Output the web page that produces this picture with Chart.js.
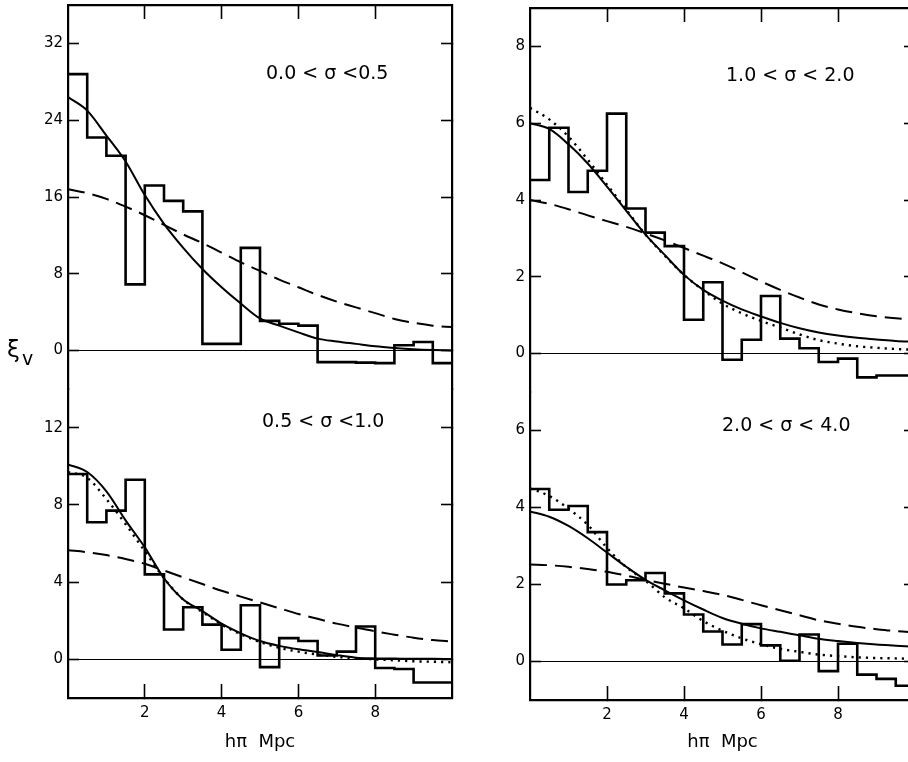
<!DOCTYPE html>
<html>
<head>
<meta charset="utf-8">
<script src="https://cdn.jsdelivr.net/npm/chart.js@4.4.1/dist/chart.umd.min.js"></script>
<style>
  html, body { margin: 0; padding: 0; background: #fff; overflow: hidden; }
  #fig { position: relative; width: 908px; height: 762px; overflow: hidden;
         font-family: 'DejaVu Sans', sans-serif; color: #000; background: #fff; }
  #fig canvas { position: absolute; }
  .lbl { position: absolute; font-size: 19px; line-height: 19px; white-space: pre; }
</style>
</head>
<body>
<div id="fig">
  <canvas id="tl" width="460" height="392" style="left:0;top:0"></canvas>
  <canvas id="bl" width="460" height="382" style="left:0;top:380px"></canvas>
  <canvas id="tr" width="470" height="395" style="left:460px;top:0"></canvas>
  <canvas id="br" width="470" height="379" style="left:460px;top:383px"></canvas>

  <div class="lbl" style="left:266px;top:63px">0.0 &lt; σ &lt;0.5</div>
  <div class="lbl" style="left:262px;top:411px">0.5 &lt; σ &lt;1.0</div>
  <div class="lbl" style="left:726px;top:65px">1.0 &lt; σ &lt; 2.0</div>
  <div class="lbl" style="left:722px;top:415px">2.0 &lt; σ &lt; 4.0</div>

  <div class="lbl" style="left:7px;top:338px;font-size:23px;line-height:23px">ξ</div>
  <div class="lbl" style="left:22px;top:349px;font-size:19px;line-height:19px">v</div>
</div>

<script>
'use strict';

// histogram bin edges and curve sample points (h*pi, Mpc)
const binEdges = [0, 0.5, 1, 1.5, 2, 2.5, 3, 3.5, 4, 4.5, 5, 5.5, 6, 6.5, 7, 7.5, 8, 8.5, 9, 9.5, 10];
const curveX   = [0, 0.5, 1, 1.5, 2, 2.5, 3, 3.5, 4, 4.5, 5, 5.5, 6, 6.5, 7, 7.5, 8, 8.5, 9, 9.5, 10];
const xTicks = [2, 4, 6, 8];

// 0.0 < sigma < 0.5
const histTL   = [28.8, 22.2, 20.3, 6.9, 17.2, 15.6, 14.5, 0.7, 0.7, 10.7, 3.1, 2.8, 2.6, -1.2, -1.2, -1.25, -1.3, 0.55, 0.9, -1.3];
const solidTL  = [26.4, 25.0, 22.4, 19.7, 16.2, 13.2, 10.7, 8.5, 6.6, 4.9, 3.35, 2.6, 1.9, 1.25, 0.95, 0.7, 0.45, 0.28, 0.15, 0.07, 0.02];
const dashedTL = [16.8, 16.4, 15.8, 15.0, 14.1, 13.1, 12.1, 11.2, 10.2, 9.2, 8.3, 7.4, 6.6, 5.8, 5.1, 4.5, 3.9, 3.3, 2.9, 2.6, 2.45];
const yTicksTL = [0, 8, 16, 24, 32];

// 0.5 < sigma < 1.0
const histBL   = [9.6, 7.1, 7.7, 9.3, 4.4, 1.55, 2.7, 1.8, 0.5, 2.8, -0.4, 1.1, 0.95, 0.2, 0.4, 1.7, -0.45, -0.5, -1.2, -1.2];
const solidBL  = [10.1, 9.7, 8.7, 7.2, 5.8, 4.2, 3.1, 2.5, 1.85, 1.35, 0.95, 0.7, 0.52, 0.38, 0.22, 0.09, 0.05, 0.04, 0.03, 0.03, 0.02];
const dottedBL = [9.7, 9.4, 8.3, 7.0, 5.6, 4.2, 3.1, 2.45, 1.8, 1.3, 0.9, 0.6, 0.4, 0.25, 0.13, 0.05, 0.0, -0.05, -0.1, -0.12, -0.15];
const dashedBL = [5.65, 5.55, 5.4, 5.2, 4.95, 4.6, 4.25, 3.9, 3.55, 3.25, 2.95, 2.65, 2.35, 2.1, 1.85, 1.65, 1.45, 1.28, 1.12, 1.0, 0.92];
const yTicksBL = [0, 4, 8, 12];

// 1.0 < sigma < 2.0
const histTR   = [4.52, 5.88, 4.21, 4.76, 6.25, 3.78, 3.15, 2.8, 0.88, 1.86, -0.16, 0.36, 1.5, 0.39, 0.14, -0.22, -0.13, -0.62, -0.57, -0.57];
const solidTR  = [6.0, 5.85, 5.45, 4.95, 4.35, 3.72, 3.1, 2.57, 2.05, 1.66, 1.38, 1.15, 0.97, 0.8, 0.66, 0.55, 0.47, 0.41, 0.37, 0.33, 0.31];
const dottedTR = [6.4, 6.1, 5.65, 5.05, 4.4, 3.75, 3.1, 2.55, 2.05, 1.65, 1.3, 1.05, 0.85, 0.68, 0.5, 0.35, 0.26, 0.19, 0.15, 0.12, 0.1];
const dashedTR = [4.0, 3.9, 3.76, 3.6, 3.45, 3.3, 3.13, 2.95, 2.75, 2.55, 2.35, 2.12, 1.88, 1.66, 1.46, 1.28, 1.15, 1.05, 0.97, 0.92, 0.88];
const yTicksTR = [0, 2, 4, 6, 8];

// 2.0 < sigma < 4.0
const histBR   = [4.48, 3.94, 4.04, 3.36, 2.0, 2.11, 2.3, 1.77, 1.22, 0.78, 0.44, 0.97, 0.42, 0.02, 0.7, -0.25, 0.46, -0.34, -0.45, -0.63];
const solidBR  = [3.9, 3.76, 3.52, 3.2, 2.83, 2.46, 2.12, 1.85, 1.59, 1.35, 1.13, 0.98, 0.86, 0.77, 0.68, 0.59, 0.53, 0.48, 0.44, 0.41, 0.38];
const dottedBR = [4.5, 4.3, 3.97, 3.55, 2.95, 2.45, 2.1, 1.67, 1.38, 1.05, 0.8, 0.6, 0.45, 0.33, 0.25, 0.18, 0.14, 0.11, 0.09, 0.08, 0.07];
const dashedBR = [2.52, 2.5, 2.46, 2.4, 2.33, 2.23, 2.12, 2.02, 1.92, 1.83, 1.73, 1.6, 1.46, 1.33, 1.2, 1.07, 0.98, 0.9, 0.84, 0.79, 0.76];
const yTicksBR = [0, 2, 4, 6];

const q = s => document.querySelector(s);
const black = '#000';
const family = "'DejaVu Sans', sans-serif";
const tickFont = { family, size: 15 };

// histogram: value of bin i holds from edge i to edge i+1
const stepData = vals => binEdges.map((x, i) => ({ x, y: vals[Math.min(i, vals.length - 1)] }));
const curveData = vals => curveX.map((x, i) => ({ x, y: vals[i] }));

function zeroPad(s) {
    s.paddingLeft = 0; s.paddingRight = 0; s.paddingTop = 0; s.paddingBottom = 0;
}

function xScale(isBottom, height) {
    return {
        type: 'linear', position: isBottom ? 'bottom' : 'top', min: 0, max: 10,
        ticks: { display: isBottom, font: tickFont, color: black, padding: 20, maxRotation: 0, autoSkip: false },
        grid: { drawOnChartArea: false, drawTicks: true, tickLength: -14, tickColor: black, tickWidth: 1.6 },
        border: { display: true, color: black, width: 2.2 },
        title: {
            display: isBottom, text: 'hπ  Mpc', color: black,
            font: { family, size: 18 }, padding: { top: 0, bottom: 9 }
        },
        afterBuildTicks: s => { s.ticks = xTicks.map(v => ({ value: v })); },
        afterFit: s => { s.height = height; zeroPad(s); }
    };
}

function yScale(side, range, ticks, width) {
    const left = side === 'left';
    return {
        type: 'linear', position: side, min: range[0], max: range[1],
        ticks: { display: left, font: tickFont, color: black, padding: 16 },
        grid: {
            drawOnChartArea: left, drawTicks: true, tickLength: -11,
            // only the zero level is drawn across the panel
            color: c => (c.tick && c.tick.value === 0) ? black : 'rgba(0,0,0,0)',
            lineWidth: 1, tickColor: black, tickWidth: 1.6
        },
        border: { display: true, color: black, width: 2.2 },
        afterBuildTicks: s => { s.ticks = ticks.map(v => ({ value: v })); },
        afterFit: s => { s.width = width; zeroPad(s); }
    };
}

function series(data, extra) {
    return Object.assign({
        data, borderColor: black, borderWidth: 2, pointRadius: 0, fill: false
    }, extra);
}

function makePanel(id, p) {
    const datasets = [
        series(stepData(p.hist), { stepped: true, borderWidth: 2.6 }),
        series(curveData(p.solid), { cubicInterpolationMode: 'monotone' }),
        series(curveData(p.dashed), { cubicInterpolationMode: 'monotone', borderDash: [17, 8] })
    ];
    if (p.dotted) {
        datasets.push(series(curveData(p.dotted), {
            cubicInterpolationMode: 'monotone', borderDash: [2.2, 5], borderWidth: 2.4
        }));
    }
    return new Chart(q(id).getContext('2d'), {
        type: 'line',
        data: { datasets },
        options: {
            responsive: false,
            animation: false,
            devicePixelRatio: 1,
            layout: { autoPadding: false, padding: p.pad },
            plugins: { legend: { display: false }, tooltip: { enabled: false } },
            scales: {
                x: xScale(p.bottom, p.bottom ? p.xHeight : 0),
                y: yScale('left', p.range, p.yTicks, p.yWidth),
                y2: yScale('right', p.range, p.yTicks, 0)
            }
        }
    });
}

function init() {
    Chart.defaults.font.family = family;
    Chart.defaults.color = black;

    makePanel('#tl', {
        hist: histTL, solid: solidTL, dashed: dashedTL,
        range: [-4, 36], yTicks: yTicksTL, yWidth: 68,
        bottom: false, pad: { left: 0, top: 5, right: 8, bottom: 3 }
    });
    makePanel('#bl', {
        hist: histBL, solid: solidBL, dashed: dashedBL, dotted: dottedBL,
        range: [-2, 14], yTicks: yTicksBL, yWidth: 68,
        bottom: true, xHeight: 64, pad: { left: 0, top: 9, right: 8, bottom: 0 }
    });
    makePanel('#tr', {
        hist: histTR, solid: solidTR, dashed: dashedTR, dotted: dottedTR,
        range: [-1, 9], yTicks: yTicksTR, yWidth: 70,
        bottom: false, pad: { left: 0, top: 8, right: 15, bottom: 3 }
    });
    makePanel('#br', {
        hist: histBR, solid: solidBR, dashed: dashedBR, dotted: dottedBR,
        range: [-1, 7], yTicks: yTicksBR, yWidth: 70,
        bottom: true, xHeight: 62, pad: { left: 0, top: 9, right: 15, bottom: 0 }
    });
}

init();
</script>
</body>
</html>
